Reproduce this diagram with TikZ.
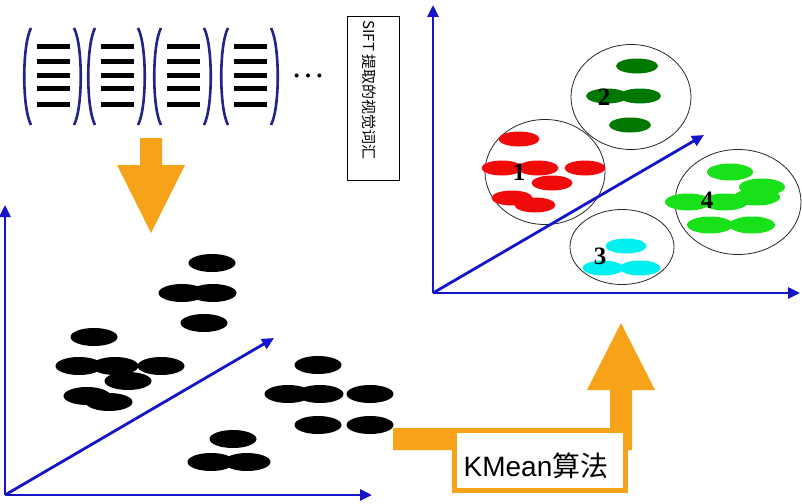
\documentclass[tikz,border=0pt]{standalone}
\usepackage{fontspec}
\setmainfont{Liberation Serif}
\setsansfont{Liberation Sans}
\newfontfamily\cjk{Noto Sans CJK SC}
\usetikzlibrary{arrows.meta,shapes.geometric}
\definecolor{axisblue}{RGB}{20,20,200}
\definecolor{bracketblue}{RGB}{35,35,135}
\definecolor{arrorange}{RGB}{247,163,26}
\definecolor{dkgreen}{RGB}{0,120,0}
\definecolor{ltgreen}{RGB}{25,225,25}
\definecolor{ptcyan}{RGB}{0,240,240}
\definecolor{ptred}{RGB}{240,10,10}

\begin{document}
\begin{tikzpicture}[x=1pt,y=-1pt,
    blueaxis/.style={draw=axisblue,line width=2.8pt,-{Triangle[length=12pt,width=11pt]}},
    blob/.style={ellipse,fill=black,minimum width=47pt,minimum height=18pt,inner sep=0pt},
    featdot/.style={ellipse,fill=#1,minimum width=41pt,minimum height=15pt,inner sep=0pt},
    ring/.style={ellipse,draw=black!85,line width=0.8pt,inner sep=0pt},
    clabel/.style={font=\bfseries\fontsize{25}{25}\selectfont},
    wordbar/.style={fill=black,minimum width=33pt,minimum height=5pt,inner sep=0pt},
    bracket/.style={draw=bracketblue,line width=2.6pt}]
    \useasboundingbox[fill=white] (0,0) rectangle (802,503);

    % visual words
    \foreach \cx [count=\i] in {53,117,183,250} {
        \draw[bracket] (\cx-22,28) .. controls (\cx-31,45) and (\cx-31,108) .. (\cx-22,125);
        \draw[bracket] (\cx+21,28) .. controls (\cx+30,45) and (\cx+30,108) .. (\cx+21,125);
        \foreach \y [count=\j] in {47,61,75,88,104}
            \node[wordbar] (w\i-\j) at (\cx,\y) {};
    }
    \node (more) at (308,76) {\fontsize{34}{34}\selectfont\dots};
    \node[draw,line width=0.8pt,minimum width=52pt,minimum height=164pt] (sift) at (373,98) {};
    \node[rotate=-90,font=\cjk\fontsize{15}{15}\selectfont] (siftlabel) at (369,90) {SIFT 提取的视觉词汇};

    % down arrow
    \fill[arrorange] (140,138) -- (162,138) -- (162,165) -- (185,165) -- (151,233)
        -- (117,165) -- (140,165) -- cycle;

    % left plot
    \coordinate (lo) at (5,495);
    \coordinate (ly) at (5,205);
    \coordinate (lx) at (372,495);
    \coordinate (lz) at (274,338);
    \foreach \p [count=\k] in {(212,263),(182,293),(213,293),(204,323),(94,337),(79,366),(115,366),
        (161,366),(128,381),(87,396),(109,402),(318,365),(288,394),(320,394),(370,394),
        (318,425),(370,425),(233,439),(211,462),(247,462)}
        \node[blob] (b\k) at \p {};
    \draw[blueaxis] (lo) -- (ly);
    \draw[blueaxis] (lo) -- (lx);
    \draw[blueaxis] (lo) -- (lz);

    % KMean arrow
    \fill[arrorange] (393,428) -- (610,428) -- (610,390) -- (587,390) -- (621,323) -- (655,390)
        -- (632,390) -- (632,450) -- (393,450) -- cycle;
    \node[draw=arrorange,fill=white,line width=5pt,minimum width=171pt,minimum height=60pt]
        (kmean) at (540,460.5) {};
    \node[font=\sffamily\fontsize{28}{28}\selectfont] (kmeanlabel) at (536,466) {KMean{\cjk 算法}};

    % right plot
    \node[ring,minimum width=120pt,minimum height=105pt] (c1) at (545,172) {};
    \node[ring,minimum width=120pt,minimum height=105pt] (c2) at (631,97) {};
    \node[ring,minimum width=104pt,minimum height=75pt] (c3) at (622,247) {};
    \node[ring,minimum width=126pt,minimum height=105pt] (c4) at (738,202) {};
    \foreach \p [count=\k] in {(519,139),(502,168),(538,168),(585,168),(552,183),(512,198),(535,205)}
        \node[featdot=ptred] (r\k) at \p {};
    \foreach \p [count=\k] in {(637,66),(607,96),(640,96),(630,125)}
        \node[featdot=dkgreen,minimum width=42pt] (g\k) at \p {};
    \foreach \p [count=\k] in {(626,246),(603,268),(640,268)}
        \node[featdot=ptcyan] (s\k) at \p {};
    \foreach \p [count=\k] in {(730,172),(762,187),(688,202),(725,202),(757,197),(710,225),(752,225)}
        \node[featdot=ltgreen,minimum width=46pt,minimum height=17pt] (l\k) at \p {};
    \node[clabel] (n1) at (519,172) {1};
    \node[clabel] (n2) at (604,97) {2};
    \node[clabel] (n3) at (600,256) {3};
    \node[clabel] (n4) at (707,200) {4};
    \coordinate (ro) at (433,293);
    \coordinate (ry) at (433,5);
    \coordinate (rx) at (800,293);
    \coordinate (rz) at (704,135);
    \draw[blueaxis] (ro) -- (ry);
    \draw[blueaxis] (ro) -- (rx);
    \draw[blueaxis] (ro) -- (rz);
\end{tikzpicture}
\end{document}
